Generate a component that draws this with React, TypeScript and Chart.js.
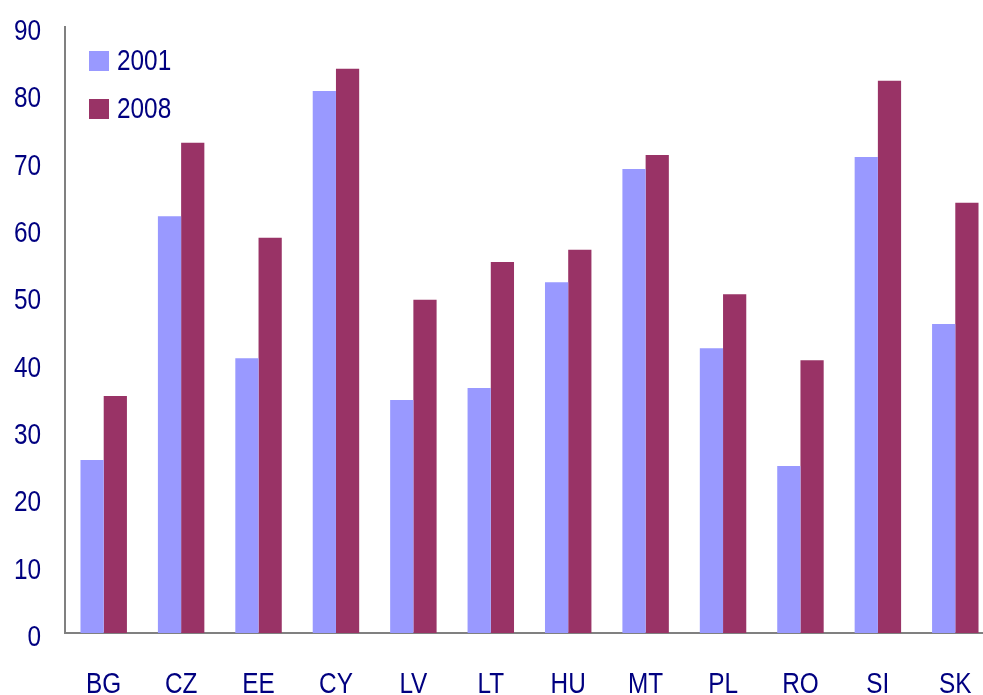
import React, { useEffect, useRef } from "react";
import { Chart, registerables } from "chart.js";

Chart.register(...registerables);

const categories = ["BG", "CZ", "EE", "CY", "LV", "LT", "HU", "MT", "PL", "RO", "SI", "SK"];
const series2001 = [25.7, 61.9, 40.8, 80.5, 34.6, 36.4, 52.1, 68.9, 42.3, 24.8, 70.7, 45.9];
const series2008 = [35.2, 72.8, 58.7, 83.8, 49.5, 55.1, 56.9, 71.0, 50.3, 40.5, 82.0, 63.9];
const seriesLabels = ["2001", "2008"];
const seriesColors = ["#9999FF", "#993366"];

const FONT = "'Liberation Sans', Arial, sans-serif";
const FONT_SIZE = 29;
const SQUEEZE = 0.84;
const TEXT = "#000080";

function narrowText(ctx: CanvasRenderingContext2D, text: string, x: number, y: number, align: CanvasTextAlign) {
  ctx.save();
  ctx.translate(x, y);
  ctx.scale(SQUEEZE, 1);
  ctx.textAlign = align;
  ctx.fillText(text, 0, 0);
  ctx.restore();
}

const textPlugin = {
  id: "narrowText",
  afterDraw(chart: any) {
    const ctx = chart.ctx as CanvasRenderingContext2D;
    const area = chart.chartArea;
    const xs = chart.scales.x;
    const ys = chart.scales.y;
    ctx.save();
    ctx.font = `${FONT_SIZE}px ${FONT}`;
    ctx.textBaseline = "alphabetic";
    ctx.fillStyle = TEXT;
    // y tick labels
    ys.ticks.forEach((t: any) => {
      const py = ys.getPixelForValue(t.value);
      narrowText(ctx, String(t.value), area.left - 24, py + 13, "right");
    });
    // x tick labels
    xs.ticks.forEach((t: any, i: number) => {
      const px = xs.getPixelForTick(i);
      const label = chart.data.labels[i];
      narrowText(ctx, String(label), px, area.bottom + 60, "center");
    });
    // legend
    chart.data.datasets.forEach((ds: any, i: number) => {
      const y = area.top + 34 + i * 48;
      ctx.fillStyle = ds.backgroundColor;
      ctx.fillRect(area.left + 24, y - 10, 20, 20);
      ctx.fillStyle = TEXT;
      narrowText(ctx, ds.label, area.left + 52, y + 9, "left");
    });
    ctx.restore();
  },
};

export default function App() {
  const ref = useRef<HTMLCanvasElement>(null);
  useEffect(() => {
    if (!ref.current) return;
    const chart = new Chart(ref.current, {
      type: "bar",
      data: {
        labels: categories,
        datasets: [
          { label: seriesLabels[0], data: series2001, backgroundColor: seriesColors[0], categoryPercentage: 0.6, barPercentage: 1 },
          { label: seriesLabels[1], data: series2008, backgroundColor: seriesColors[1], categoryPercentage: 0.6, barPercentage: 1 },
        ],
      },
      options: {
        animation: false,
        responsive: false,
        maintainAspectRatio: false,
        layout: { padding: { top: 27, right: 6, left: 0, bottom: 0 } },
        plugins: { legend: { display: false }, tooltip: { enabled: false } },
        scales: {
          x: {
            grid: { display: false, drawTicks: false },
            border: { display: true, color: "#808080", width: 2 },
            ticks: { display: false, autoSkip: false },
            afterFit: (s: any) => { s.height = 62; },
          },
          y: {
            min: 0,
            max: 90,
            grid: { display: false, drawTicks: false },
            border: { display: true, color: "#808080", width: 2 },
            ticks: { display: false, stepSize: 10 },
            afterFit: (s: any) => { s.width = 65; },
          },
        },
      },
      plugins: [textPlugin],
    });
    return () => chart.destroy();
  }, []);
  return (
    <div style={{ position: "fixed", left: 0, top: 0, width: 983, height: 695, overflow: "hidden", background: "#fff" }}>
      <canvas ref={ref} width={1000} height={695} style={{ display: "block" }} />
    </div>
  );
}
